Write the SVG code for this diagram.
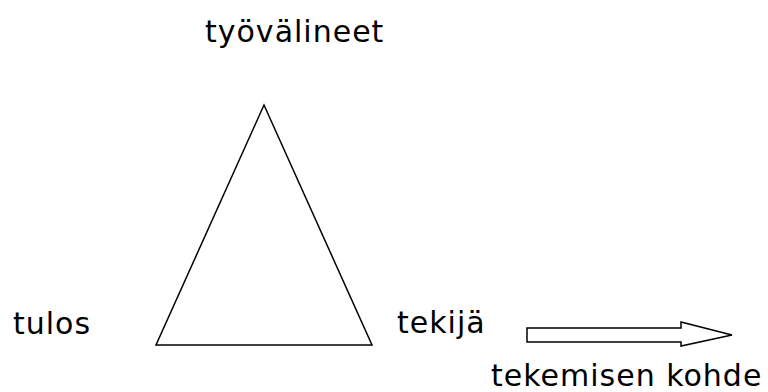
<svg xmlns="http://www.w3.org/2000/svg" width="768" height="392" viewBox="0 0 768 392">
  <style>
    .lbl { font-family: "DejaVu Sans", Verdana, sans-serif; font-size: 30px; letter-spacing: 1px; fill: #000; }
    .shape { fill: #fff; stroke: #000; stroke-width: 1.5; stroke-linejoin: miter; }
  </style>
  <rect width="768" height="392" fill="#fff"/>
  <g id="triangle">
    <polygon class="shape" points="264,105 156,345 372,345"/>
  </g>
  <g id="tyovalineet">
    <text class="lbl" x="205" y="42">työvälineet</text>
  </g>
  <g id="tulos">
    <text class="lbl" x="13" y="334">tulos</text>
  </g>
  <g id="tekija">
    <text class="lbl" x="397" y="333">tekijä</text>
  </g>
  <g id="connectors">
    <polygon class="shape" points="527,328 681,328 681,322 732,335 681,346 681,342 527,342"/>
  </g>
  <g id="kohde">
    <text class="lbl" x="491" y="386">tekemisen kohde</text>
  </g>
</svg>
